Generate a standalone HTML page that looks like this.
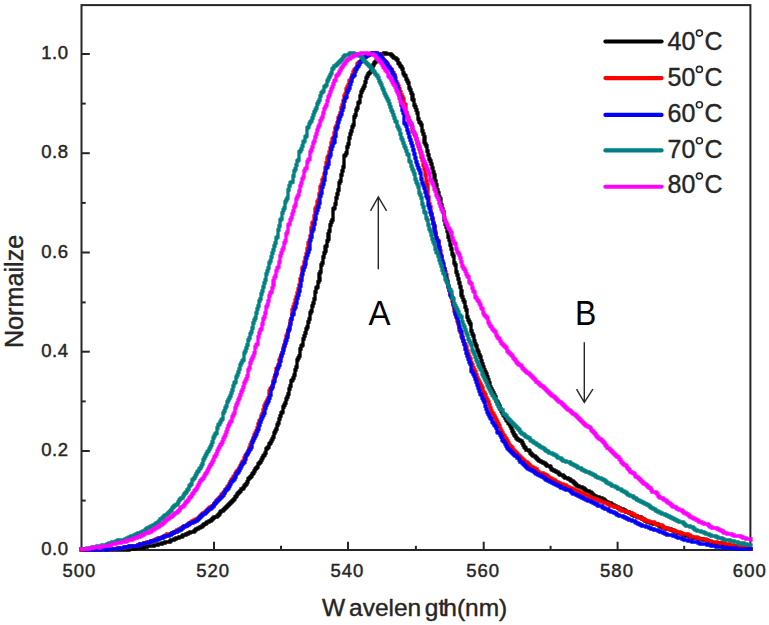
<!DOCTYPE html>
<html><head><meta charset="utf-8"><title>Normalized spectra</title>
<style>
html,body{margin:0;padding:0;background:#fff;}
body{width:769px;height:625px;overflow:hidden;}
svg{display:block;}
text{font-family:"Liberation Sans",sans-serif;fill:#262626;}
.tk{font-size:18.5px;stroke:#262626;stroke-width:0.45px;}
.xt{letter-spacing:1px;}
.yt{letter-spacing:0.6px;}
text.tiy{font-size:25.2px;}
.ti{font-size:24.5px;stroke:#262626;stroke-width:0.4px;}
.lg{font-size:25px;stroke:#262626;stroke-width:0.4px;}
.an{font-size:35.5px;fill:#000;}
</style></head><body>
<svg width="769" height="625" viewBox="0 0 769 625">
<rect x="0" y="0" width="769" height="625" fill="#ffffff"/>

<g stroke="#262626" fill="none" stroke-width="2">
<rect x="81.5" y="5.1" width="668.9" height="544.9"/>
<line x1="214" y1="550.0" x2="214" y2="541.7"/>
<line x1="348" y1="550.0" x2="348" y2="541.7"/>
<line x1="483.7" y1="550.0" x2="483.7" y2="541.7"/>
<line x1="617.6" y1="550.0" x2="617.6" y2="541.7"/>
<line x1="147.7" y1="550.0" x2="147.7" y2="545.8"/>
<line x1="281" y1="550.0" x2="281" y2="545.8"/>
<line x1="415.9" y1="550.0" x2="415.9" y2="545.8"/>
<line x1="550.6" y1="550.0" x2="550.6" y2="545.8"/>
<line x1="684.2" y1="550.0" x2="684.2" y2="545.8"/>
<line x1="81.5" y1="54" x2="89.8" y2="54"/>
<line x1="81.5" y1="153.2" x2="89.8" y2="153.2"/>
<line x1="81.5" y1="252.5" x2="89.8" y2="252.5"/>
<line x1="81.5" y1="351.7" x2="89.8" y2="351.7"/>
<line x1="81.5" y1="451.0" x2="89.8" y2="451.0"/>
<line x1="81.5" y1="103.6" x2="85.7" y2="103.6"/>
<line x1="81.5" y1="202.9" x2="85.7" y2="202.9"/>
<line x1="81.5" y1="302.4" x2="85.7" y2="302.4"/>
<line x1="81.5" y1="401.4" x2="85.7" y2="401.4"/>
<line x1="81.5" y1="500.6" x2="85.7" y2="500.6"/>
</g>
<g fill="none" stroke-width="3.3" stroke-linejoin="miter" stroke-linecap="square">
<path d="M81 550H82H83H84H85H86H87H88H89H90H91H92H93H94H95H96H97H98H99H100H101H102H103H104H105H106H107H108H109H110H111H112H113H114H115H116H117H118H119H120H121H122H123H124H125H126H127H128H129V549H130H131H132H133H134H135V548H136H137H138H139H140H141H142H143H144V547H145H146V546H147H148H149H150H151H152H153H154V545H155H156H157H158V544H159H160H161H162V543H163H164H165V542H166H167H168H169H170V541H171V540H172H173H174V539H175H176V538H177H178H179V537H180H181H182V536H183V535H184H185H186V534H187H188V533H189H190V532H191H192H193H194V531H195V530H196V529H197H198V528H199H200V527H201H202V526H203V525H204V524H205H206V523H207V522H208H209V521H210H211V520H212V519H213V518H214V517H215H216H217V516H218V515H219V514H220V513V512H221V511H222H223V510H224V509H225V508H226V507H227V506H228V505H229V504H230V503H231V502H232V501H233V500H234V499H235V498V497H236V496H237V495V494H238V493H239V492H240V491H241V490V489H242H243V488H244V487V486H245V485H246V484H247V483V482H248V481V480V479H249V478H250V477H251V476H252V475V474H253V473H254V472V471H255V470V469H256V468H257V467H258V466V465V464H259V463H260V462H261V461V460H262V459V458H263V457V456H264V455H265V454V453H266V452V451V450V449H267V448H268V447H269V446V445V444H270V443H271V442V441H272V440V439H273V438V437H274V436V435V434V433H275V432V431H276V430V429H277V428V427V426V425H278V424V423H279V422V421V420V419H280V418V417V416H281V415V414V413H282V412H283V411V410V409V408V407H284V406V405H285V404V403H286V402V401V400V399H287V398V397H288V396V395V394H289V393V392V391V390V389H290V388V387V386H291V385V384V383V382V381H292V380H293V379V378H294V377V376V375H295V374V373V372V371V370H296V369V368V367H297V366V365V364V363V362V361V360H298V359V358H299V357V356H300V355V354V353V352V351V350V349H301V348V347V346H302V345H303V344V343V342V341V340V339H304V338V337V336H305V335V334V333H306V332V331V330V329H307V328V327H308V326V325V324V323V322H309V321V320V319H310V318V317V316V315V314V313H311V312V311H312V310V309V308V307V306H313V305V304V303H314V302V301V300V299H315V298V297V296V295V294V293V292H316V291V290V289V288H317V287H318V286V285V284V283V282H319V281V280H320V279V278H319V277V276V275V274H320V273V272H321V271V270V269V268V267V266V265H322V264V263H323V262V261V260V259V258V257H324V256V255V254V253H325V252V251H326V250H325V249V248V247H326V246H327V245V244V243V242V241H328V240V239H329V238V237H328V236V235V234H329V233V232V231H330V230V229V228V227V226V225H331V224V223V222H332V221V220H333V219V218V217V216V215V214V213V212V211V210V209H334V208H335V207V206V205V204H336V203V202V201V200V199V198H337V197V196V195V194H338V193V192V191V190H339V189V188V187V186V185V184V183H340V182V181H341V180V179V178V177V176V175H342V174V173V172V171H343V170V169V168V167H344V166V165V164V163V162V161V160H345H344V159V158V157V156H345V155H346V154V153H347V152V151V150V149V148V147H348V146V145V144H349V143V142V141V140V139V138H350V137V136V135V134H351V133V132V131H352V130V129V128V127H353V126V125H354V124V123V122V121V120V119V118V117H355V116V115H356V114V113V112V111V110H357V109V108H358V107V106V105V104V103H359V102H360V101V100V99V98V97V96H361V95V94V93V92H362V91V90H363V89V88H364V87V86H365V85V84V83V82H366V81V80V79V78H367V77V76H368V75V74H369V73H370V72H371V71V70H372V69V68V67H373V66V65H374V64V63H375V62H376V61H377V60V59H378V58V57H379H380V56H381V55H382V54H383H384V53H385H386V54H387H388H389H390H391V55H392V56H393V57H394V58H395H396V59H397V60H398V61V62V63H399V64H400V65V66H401V67H402V68V69H403V70V71V72V73H404V74V75H405V76H406V77V78V79H407V80V81H408V82V83H409V84V85V86V87V88H410V89V90H411V91V92V93H412V94V95H413V96H412V97V98V99H413V100H414V101V102V103V104V105H415V106V107H416V108V109V110H417V111V112V113H418V114V115V116V117V118V119H419V120V121V122H420V123H421V124V125H422V126V127V128V129V130V131H423V132V133V134H424V135V136V137H425V138V139V140H424V141V142H425V143V144H426V145V146H427V147V148V149V150V151H428V152V153V154V155H429V156V157V158V159H430V160V161H431V162V163V164H432V165V166V167V168H433V169V170V171V172H434V173V174V175H435V176V177V178H434V179H435V180V181H436V182V183V184V185H437V186V187V188V189V190H438V191V192V193H439V194V195V196V197H440V198V199H441V200V201V202V203V204V205H442V206V207V208V209H443V210V211V212H444V213V214V215V216V217V218V219V220H445V221V222V223V224H446V225V226V227H447V228V229V230V231H448V232V233V234V235V236V237H449V238V239V240H450V241V242V243V244V245H451V246V247V248V249H452V250V251V252V253V254H453V255V256H454V257V258V259V260V261V262V263H455V264V265H456V266V267V268V269V270V271V272H457V273V274V275H458V276V277V278V279H459V280V281V282V283H460V284V285V286V287H461V288V289V290V291H462V292V293H461V294V295H462V296V297H463V298V299V300H464V301V302H465V303V304V305V306V307H466V308V309V310H467V311V312V313V314V315V316V317H468V318V319V320H469V321V322H470V323V324H471V325V326V327V328V329V330V331H472V332V333V334H473V335V336H474V337V338V339V340V341H475V342V343V344H476V345V346H477V347V348V349V350H478V351V352H479V353V354V355H480V356V357H481V358V359V360V361H482V362V363V364H483V365V366V367H484V368V369V370H485V371V372H486V373V374H487V375V376V377H488V378V379V380H489V381V382V383H490V384V385V386V387H491V388V389H492V390V391H493V392V393H494V394V395H495V396V397H496V398V399V400V401H497V402H498V403V404H499V405V406H500V407V408V409H501V410V411H502V412V413H503V414V415H504V416H505V417V418H506V419V420H507V421H508V422V423H509V424H510V425V426H511V427V428H512V429V430V431H513V432V433H514V434V435H515V436H516V437V438H517V439H518V440H519H520V441H521H522V442V443H523V444V445H524V446V447H525V448H526V449V450H527H528H529V451H530V452V453H531V454H532V455H533V456H534H535V457H536V458H537V459H538V460H539V461H540H541V462H542H543V463H544H545V464H546V465H547V466H548H549H550V467H551V468V469H552V470H553H554V471H555H556V472H557H558V473H559V474H560V475H561H562H563V476H564V477H565V478H566H567H568V479H569H570V480H571V481H572H573V482H574V483H575V484H576V485H577V486H578H579V487H580H581H582V488H583H584V489H585V490H586V491H587H588H589V492H590H591V493H592V494H593V495H594V496H595H596V497H597H598H599V498H600H601H602V499H603H604V500H605V501H606V502H607H608V503H609H610H611V504H612V505H613H614V506H615H616V507H617H618V508H619H620V509H621H622H623V510H624H625V511H626V512H627H628H629V513H630H631V514H632V515H633H634V516H635H636H637V517H638H639H640H641V518H642V519H643H644V520H645V521H646H647V522H648H649H650V523H651H652H653V524H654H655H656H657H658V525H659V526H660H661V527H662H663V528H664H665H666V529H667H668H669H670H671V530H672H673V531H674H675V532H676H677V533H678H679H680H681V534H682H683V535H684H685H686V536H687H688H689H690V537H691H692V538H693H694H695H696H697H698V539H699H700H701H702H703V540H704H705H706H707V541H708H709V542H710H711H712V543H713H714H715H716V544H717H718V543H719H720H721H722V544H723V545H724H725H726H727H728V546H729V547H730H731H732V546H733H734H735H736V547H737H738H739V548H740H741H742H743H744H745H746H747H748H749V549H750H751" stroke="#000000"/>
<path d="M81 549H82V550H83H84H85H86H87H88H89H90H91H92H93H94H95H96H97H98H99V549H100H101H102H103H104H105H106H107H108H109V550V549H110H111H112H113H114H115H116H117V548H118H119H120H121H122H123H124H125V547H126H127H128H129H130V546H131H132H133H134H135H136H137H138V545H139H140V544H141H142H143H144V543H145H146H147V542H148H149H150H151V541H152H153H154V540H155H156V539H157H158V538H159H160H161H162V537H163H164H165V536H166V535H167V534H168H169H170H171H172V533H173H174V532H175H176V531H177V530H178H179V529H180H181V528H182H183V527H184H185V526H186H187V525H188V524H189V523H190H191V522H192V521H193H194V520H195H196V519H197H198V518H199V517H200V516H201V515H202V514H203V513H204H205V512H206V511H207V510H208V509H209V508H210V507H211H212V506H213H214V505V504H215V503H216V502V501H217V500H218V499H219V498H220V497H221V496V495H222V494H223V493H224V492H225V491H226V490V489H227V488V487H228V486H229V485V484H230V483V482H231V481V480H232V479H233V478V477H234V476H235V475V474H236V473V472H237V471H238V470H239V469V468H240V467V466H241V465V464H242V463V462H243V461H244V460V459V458H245V457V456H246V455H247V454V453H248V452V451H249V450V449V448H250V447V446V445H251V444V443H252V442V441H253V440V439V438H254V437V436V435H255V434V433H256V432V431H257V430V429V428H258V427V426V425V424H259V423V422V421H260V420H261V419V418V417V416H262V415V414H263V413V412V411V410H264V409V408V407V406H265V405V404H266V403V402H267V401V400H268V399V398H269V397V396V395V394V393V392V391H270V390V389H271V388H272V387V386H273V385V384V383V382V381H274V380V379V378H275V377V376V375H276V374H277V373H276V372V371V370V369H277V368H278V367V366V365H279V364V363V362V361V360H280V359V358H281V357V356V355H282V354V353H283V352V351V350V349V348H284V347V346V345H285V344V343V342V341H286V340V339V338V337V336H287V335V334H288V333V332V331V330H289V329V328V327H290V326V325V324V323V322V321H291V320V319H292V318V317V316V315H293H292V314V313V312V311V310H293V309V308V307H294V306V305V304H295V303V302V301V300H296V299V298V297H297V296V295V294V293H298V292V291V290V289H299V288V287V286V285H300V284V283V282V281V280V279H301V278V277V276H302V275V274V273V272V271V270V269V268H303V267H304V266H305V265V264V263H304V262H305V261V260V259V258H306V257V256V255V254H307V253V252V251V250V249H308V248V247V246V245V244V243H309V242V241H310V240V239V238V237V236H311V235V234V233V232V231V230V229V228H312V227V226V225V224V223H313V222H314V221V220V219V218V217V216H315V215V214V213V212V211V210V209H316V208V207H317V206V205V204V203V202H318V201V200H319V199V198V197V196V195V194H320V193V192V191V190V189V188V187H321V186V185H322V184V183V182V181V180H323V179V178H324V177V176V175V174H325V173V172V171V170V169V168H326V167V166V165V164V163H327V162V161V160V159V158H328V157V156H329V155V154V153V152H330V151V150V149V148H331V147V146V145V144V143H332V142V141V140V139H333V138H334V137V136V135V134V133H335V132V131V130V129V128H336V127V126H337V125V124V123H338V122V121V120V119V118H339V117V116H340V115V114V113H341V112V111V110V109V108H342V107V106V105H343V104V103V102V101H344V100V99V98V97V96H345V95V94H346V93V92V91V90V89H347V88V87H348V86V85H349V84V83V82V81H350V80H351V79V78H352V77V76V75H353V74V73V72H354V71V70H355V69H356V68H357V67V66V65V64H358V63H359V62H360H361V61H362V60H363V59H364V58H365V57H366V56H367V55H368H369V54H370H371H372V53H373H374H375H376H377V54H378H379H380V55H381V56H382V57V58H383V59V60H384V61H385V62H386V63H387V64H388V65V66H389V67H390V68V69H391V70H392V71V72H393V73H394V74V75H395V76V77V78H396V79V80V81V82H397V83V84H398V85V86H399V87V88V89H400V90V91V92H401V93V94V95H402V96V97H403V98V99H404V100V101V102V103V104H405V105H406V106V107V108V109V110V111V112V113H407V114V115V116H408V117V118H409V119V120V121H410V122V123H411V124V125H412V126V127V128V129V130H413V131V132H414V133V134H415V135V136H416V137V138V139H417V140V141V142V143H418V144V145V146H419V147V148V149H420V150V151V152H421V153V154V155V156V157H422V158V159V160H423V161V162V163V164V165H424V166V167V168V169H425V170V171V172V173V174V175H426V176V177V178V179V180V181H427V182V183V184V185H428V186V187V188V189V190V191V192V193V194V195V196V197H429V198V199V200V201V202V203V204H430V205V206V207H431V208V209V210V211V212V213V214V215H432V216V217V218H433V219V220V221V222V223V224H434V225V226V227H435V228V229V230V231V232H436V233V234V235V236V237V238H437V239V240H438V241H439V242V243V244V245V246V247H440V248V249V250V251H441V252V253V254V255V256H442V257V258V259V260V261H443V262V263V264V265V266V267H444V268V269H445V270V271V272H446V273V274V275H447V276V277V278V279V280V281H448V282V283V284V285V286H449V287V288V289V290H450V291V292V293V294H451V295V296H452V297V298V299V300V301H453V302V303V304V305H454V306H455V307V308H454V309V310V311H455V312V313H456V314V315V316V317H457V318V319V320V321H458V322V323V324H459V325V326V327V328V329V330H460V331V332H461V333V334V335V336H462V337H463V338V339V340V341H464V342V343V344H465V345H466V346V347H467V348V349V350V351H468V352V353V354H469V355V356V357H470V358V359H471V360V361V362V363H472V364V365H473V366V367V368H474V369V370H475V371V372H476V373V374V375H477V376V377V378H478V379V380H479V381V382H480V383V384H481V385V386H482V387V388H483V389V390V391V392H484V393H485V394V395H486V396V397V398H487V399V400H488V401V402H489V403V404V405H490V406V407V408H491V409V410V411H492V412V413H493V414H494V415V416H495V417V418H496V419V420H497V421V422H498V423V424H499V425V426H500V427V428V429H501V430V431H502V432V433H503V434V435H504V436H505V437V438H506V439H507V440V441H508V442V443H509V444V445H510V446H511V447H512V448H513V449V450H514V451H515V452H516V453H517V454H518V455H519V456H520V457H521V458H522V459H523V460H524V461H525V462H526H527V463H528V464H529V465H530V466H531V467H532H533V468H534H535V469H536H537V470V471H538V472H539V473H540H541H542H543V474H544H545V475H546H547V476H548V477H549V478H550H551V479H552H553V480H554H555V481H556V482H557H558V483H559H560V484H561H562H563V485H564H565H566V486H567V487H568H569V488H570H571H572V489H573H574V490H575H576V491H577H578H579V492H580H581V493H582H583V494H584H585V495H586H587H588V496H589V497H590H591V498H592H593H594V499H595H596H597V500H598H599V501H600H601V502H602H603H604V503H605H606H607V504H608H609V505H610V506H611H612H613H614V507H615H616H617H618V508H619V509H620V510H621H622V511H623H624H625H626V512H627H628H629V513H630H631H632V514H633H634V515H635V516H636H637V517H638H639V518H640H641H642V519H643H644V520H645H646V521H647H648H649V522H650H651H652H653H654V523H655V524H656H657V525H658H659H660H661H662V526H663V527H664V528H665H666H667H668V529H669H670V530H671H672H673H674V531H675H676V532H677H678H679H680V533H681H682V534H683H684H685H686H687H688V535H689H690V536H691V537H692H693H694H695H696H697V538H698H699V539H700H701H702H703H704H705H706V540H707H708V541H709H710H711V542H712H713H714H715H716H717V543H718H719H720H721H722H723H724H725V544H726H727H728H729H730V545H731H732H733V546H734H735H736H737H738H739H740H741V547H742H743H744H745V548H746H747H748H749V549H750H751" stroke="#ff0000"/>
<path d="M81 549H82H83H84H85H86V550H87H88V549H89H90V550H91H92H93H94H95H96H97H98H99H100H101V549H102H103H104H105H106V550H107V549H108H109H110H111H112H113H114H115H116H117H118H119V548H120H121H122H123H124V547H125H126H127H128H129V546H130H131H132H133H134H135H136H137H138V545H139H140V544H141H142H143H144V543H145H146H147H148H149V542H150H151V541H152H153H154H155V540H156H157H158V539H159H160V538H161H162H163V537H164V536H165H166H167H168H169V535H170H171V534H172V533H173H174V532H175H176H177V531H178H179V530H180H181V529H182V528H183V527H184V526H185H186H187V525H188H189V524H190V523H191H192H193V522H194H195V521H196H197V520H198V519H199V518H200V517H201V516H202V515H203V514H204H205V513H206V512H207V511H208V510H209V509H210H211V508H212V507H213V506H214V505V504H215V503H216V502H217V501H218V500H219V499H220V498H221V497H222V496H223V495H224V494V493H225V492V491V490H226H227V489H228V488H229V487V486H230V485V484H231V483V482H232V481H233V480H234V479H235V478V477H236V476V475V474H237V473H238V472H239V471V470H240V469V468H241V467V466H242V465V464H243V463H244V462H245V461V460V459H246V458V457V456V455H247V454H248V453V452H249V451V450H250V449H251V448V447H252V446V445V444V443V442H253V441V440H254V439V438H255V437V436H256V435V434H257V433V432V431H258V430V429H259V428V427V426V425H260V424V423V422H261V421V420V419H262V418V417H263V416V415H264V414V413H265V412V411V410V409V408H266V407V406V405H267V404V403H268V402V401H269V400V399V398H270V397V396V395H271V394V393V392V391V390V389H272V388V387H273V386V385V384V383H274V382V381H275V380V379V378V377V376H276V375V374V373H277V372V371V370V369H278V368V367H279V366V365H280V364V363V362V361H281V360V359V358V357V356H282V355V354V353H283V352V351V350H284V349V348V347V346H285V345V344V343H286V342V341V340H287V339V338V337H288V336V335V334V333V332V331H289V330V329H290V328V327V326V325V324H291V323V322V321V320V319H292V318V317V316V315H293V314H294V313V312V311V310V309H295V308V307H296V306V305V304V303H297V302V301V300V299V298H298V297V296V295H299V294V293V292V291H300V290V289V288V287V286H301V285V284V283V282V281V280H302V279V278V277V276V275V274H303V273V272V271V270H304V269V268V267H305V266V265V264H306V263V262V261V260V259V258H307V257V256V255H308V254V253V252H309V251V250V249H310V248V247V246V245V244V243V242V241V240H311V239V238V237H312V236V235V234V233V232V231H313V230V229H314V228V227V226V225V224H315V223V222V221V220V219H316V218V217V216V215V214V213H317V212V211V210H318V209V208V207H319V206V205V204V203H320V202V201V200V199V198V197V196H321V195V194V193H322V192V191V190V189V188V187H323V186V185V184H324V183V182V181V180H325V179V178V177V176V175V174V173H326V172V171V170V169V168H327V167H328V166V165V164H329V163V162V161V160V159V158V157H330V156V155H331V154V153V152V151V150V149H332V148V147V146H333V145V144V143H334V142H335V141V140H334V139V138H335V137V136H336V135V134V133V132V131V130V129H337V128V127H338V126V125V124V123V122H339V121V120V119H340V118V117V116H341V115V114H342V113V112V111V110H343V109V108V107H344V106V105V104V103V102V101H345V100V99V98H346V97H347V96V95V94V93V92H348V91V90H349V89V88H350V87V86V85V84H351V83V82V81H352V80V79V78V77H353V76H354V75H355V74V73V72V71H356V70V69H357V68V67H358V66H359V65V64H360V63V62H361V61H362V60V59H363V58H364V57H365H366V56H367H368V55H369H370V54H371H372V53H373H374H375H376H377V54H378H379V55H380V56H381V57V58H382V59H383V60H384V61H385V62H386V63H387V64V65H388V66V67H389V68H390V69H391V70H392V71V72V73H393V74V75H394V76H395V77V78V79V80V81V82H396V83V84H397V85V86V87H398V88V89V90V91H399V92V93V94V95H400V96V97V98H401V99V100V101V102V103V104V105H402V106V107V108V109V110H403V111V112V113H404V114V115V116V117V118V119V120V121V122V123H405V124H406V125V126H407V127V128V129V130H408V131V132V133H409V134V135V136V137H410V138V139V140H411V141V142V143H412V144V145V146H413V147V148V149V150H414V151V152V153V154H415V155V156V157V158H416V159V160V161V162H417V163V164V165H418V166V167V168H419V169V170H420V171V172V173H421V174V175V176V177V178V179H422V180V181V182V183H423V184V185H424V186V187V188H425V189V190V191V192H426V193V194V195V196H427V197V198H428V199V200V201V202V203V204V205H429V206V207V208H430V209V210V211V212H431V213V214H432V215V216V217V218V219H433V220V221V222V223H434V224V225V226H435V227V228V229H434V230V231H435V232V233V234H436V235V236V237V238H437V239V240V241H438V242H439V243H438V244V245V246H439V247V248H440V249V250V251V252V253V254V255H441V256V257H442V258V259V260V261V262H443V263V264H444V265V266V267V268V269H445V270V271V272V273V274V275H446V276V277V278V279H447V280V281V282H448V283V284V285V286V287H449V288V289V290H450V291V292V293V294V295H451V296V297H452V298H453V299V300V301V302V303V304H454V305V306V307H455V308V309V310V311V312V313V314H456V315V316H457V317V318H458V319V320V321V322H459V323V324V325V326V327H460V328V329V330H461V331V332H462V333V334V335V336V337V338H463V339V340V341H464V342V343V344H465V345V346V347V348V349H466V350V351V352V353H467V354V355V356H468V357V358V359H469V360V361V362H470V363V364H471V365V366V367V368V369V370V371H472V372H473V373V374H474V375V376H475V377V378V379H476V380V381V382H477V383V384V385H478V386V387V388H479V389V390V391H480V392V393V394H481V395H482V396V397V398H483V399V400H484V401V402H485V403V404V405V406H486V407V408V409H487V410V411V412H488V413V414H489V415V416H490V417V418H491V419H492V420V421V422H493V423H494V424V425H495V426H496V427V428H497V429V430V431V432H498V433H499H500V434V435H501V436V437H502V438V439V440H503V441H504V442H505V443V444H506V445V446H507V447V448H508V449H509V450H510V451H511V452H512V453H513V454H514V455H515V456H516H517V457V458H518H519V459V460H520V461V462H521H522V463H523V464H524V465H525V466H526V467H527V468H528V469H529H530V470H531H532V471H533H534V472H535V473H536V474H537H538V475H539H540V476H541H542V477H543H544V478H545V479H546V480H547H548V481H549H550V482H551H552V483H553H554V484H555H556V485H557H558V486H559H560V487H561V488H562H563H564V489H565H566V490H567H568H569H570V491H571V492H572V493H573V494H574H575H576V495H577H578V496H579H580V497H581H582V498H583H584V499H585H586V500H587H588V501H589H590H591V502H592H593V503H594H595V504H596H597V505H598V506H599H600H601H602V507H603V508H604H605V509H606H607H608V510H609V511H610H611V512H612H613H614V513H615H616V514H617V515H618H619V516H620H621H622H623V517H624H625V518H626H627V519H628H629V520H630H631H632V521H633H634H635V522H636V523H637H638V524H639H640V525H641H642V526H643H644H645H646V527H647H648H649V528H650H651V529H652H653H654V530H655H656H657H658V531H659H660V532H661H662H663V533H664H665V534H666H667V535H668H669H670H671H672H673V536H674H675H676V537H677H678V538H679H680H681H682V539H683H684V540H685H686H687H688V541H689H690H691H692V542H693H694H695H696H697H698V543H699H700V544H701H702H703H704H705H706H707V545H708H709H710H711V546H712H713H714H715H716V547H717H718H719H720H721H722H723V548H724H725H726H727H728H729H730H731H732H733H734H735H736V549H737H738H739H740H741H742H743H744H745H746H747H748H749H750H751" stroke="#0000ff"/>
<path d="M81 549H82H83H84H85H86H87V548H88H89H90H91H92V547H93H94H95H96H97V546H98H99H100H101H102V545H103H104H105H106H107V544H108H109V543H110H111H112V542H113H114H115H116V541H117H118V540H119H120H121H122H123H124H125V539H126H127V538H128H129V537H130H131V536H132H133H134V535H135H136V534H137H138V533H139H140H141V532H142H143V531H144H145V530H146V529H147V528H148H149V527H150H151V526H152H153V525H154H155V524H156V523H157H158V522H159V521H160V520V519H161H162V518H163V517H164V516H165V515H166H167V514H168V513H169V512H170V511H171V510H172V509V508H173V507H174V506H175V505H176H177V504H178V503V502H179V501V500H180V499H181V498H182H183V497V496H184V495V494H185V493H186V492H187V491V490H188V489H189V488V487V486H190V485H191V484H192V483V482V481V480H193V479H194V478H195V477V476H196V475V474H197V473V472H198V471H199V470V469H200V468H201V467V466H202V465V464H203V463V462V461V460H204V459V458H205V457V456H206V455V454H207V453V452H208V451H209V450V449H210V448V447H211V446V445H212V444V443V442H213V441V440V439V438H214V437V436H215V435V434H216V433H217V432V431V430V429V428H218V427V426V425H219V424H220V423V422H221V421V420H222V419H223V418V417V416V415V414V413H224V412V411H225V410V409V408H226V407V406H227V405V404V403V402H228V401V400H229V399V398H230V397V396H231V395V394V393H232V392V391V390H233V389V388V387V386H234V385V384V383H235V382H236V381V380V379V378V377H237V376V375H238V374V373V372H239V371V370V369H240V368V367V366V365H241V364V363H242V362V361H243V360H244V359V358V357V356V355V354V353H245V352V351H246V350V349V348H247V347V346V345H248V344V343V342V341V340H249V339V338H250V337V336V335V334H251V333V332H252V331V330V329V328H253V327V326V325V324V323H254V322V321V320H255V319V318H256V317V316V315V314V313H257V312V311V310V309H258V308V307V306H259V305V304V303V302V301H260V300V299H261V298V297V296V295V294H262V293V292V291H263V290V289V288V287H264V286V285V284V283H265V282V281V280H266V279V278V277V276V275V274H267V273V272V271H268V270V269V268H269V267V266V265V264V263H270V262V261H271V260V259V258V257H272V256V255V254V253H273V252V251V250H274V249V248V247V246H275V245V244V243H276V242V241V240V239V238H277V237H278V236V235V234V233V232V231V230H279V229V228V227V226H280V225V224V223V222V221V220H281V219H282V218V217V216V215V214V213H283V212V211V210H284V209V208H285V207V206V205V204V203V202H286V201V200H287V199V198H288V197V196V195V194V193H287H288V192V191V190H289V189V188V187V186H290V185V184V183H291V182H292H293V181V180V179V178V177V176H294V175V174V173V172V171H295V170V169H296V168V167V166V165H297V164V163V162V161H298V160H299V159V158V157V156H298H299V155V154V153V152H300V151H301V150V149H302V148V147V146H303V145V144V143V142H304V141H305V140V139V138V137H306V136H307V135V134V133V132V131V130V129V128H308V127H309V126V125V124H310V123V122H311V121H312V120V119V118H313V117V116V115H314V114V113V112H315V111V110H316V109V108H317V107V106V105V104H318V103V102H319V101V100H320V99V98V97V96H321V95V94V93H322V92H323V91H324V90V89V88V87H325V86H326V85H327V84V83V82V81H328V80V79H329V78V77H330V76V75H331V74V73H332V72V71V70V69H333V68H334V67V66H335H336V65H337V64H338V63H339V62H340V61H341V60H342V59H343V58V57H344V56H345V55H346H347H348H349V54H350V53H351H352H353H354V54H355H356H357H358V55H359V56H360H361V57H362V58H363V59V60H364V61H365V62H366V63H367V64H368V65H369V66H370V67H371V68H372V69V70H373V71H374V72H375V73V74H376V75H377V76H378V77V78H379V79V80V81H380V82V83H381V84V85H382V86V87V88H383V89V90H384V91V92V93H385V94V95H386V96V97H387V98V99H388V100V101H389V102V103V104H390V105V106V107H391V108V109V110H392V111V112H393V113V114V115H394V116V117V118H395V119V120V121H396V122H397V123V124V125V126H398V127V128H399V129V130H400V131V132V133V134H401V135V136V137V138H402V139V140H403V141V142V143H404V144V145V146H405V147V148H406V149V150V151H407V152V153V154H408V155H409V156V157V158V159V160V161H410V162H411V163V164V165V166H412V167V168V169H413V170V171H414V172V173V174H415V175V176V177V178V179H416V180V181V182H417V183V184H418V185V186V187H419V188V189V190V191V192V193H420V194V195H421V196V197V198H422V199V200V201V202V203V204H423V205V206V207H424V208V209V210V211V212H425V213H426V214V215V216V217V218H427V219V220H428V221V222V223V224V225H429V226V227V228V229H430V230V231H431V232V233V234V235H432V236V237V238V239H433V240V241V242H434V243V244H435V245V246V247V248V249H436V250V251V252H437V253H438V254V255V256H439V257V258V259V260H440V261V262V263H441V264V265V266H442V267V268V269V270H443V271V272V273H444V274H445V275V276V277V278V279H446V280V281H447V282V283H448V284V285V286H449V287V288V289H450V290H451V291V292H452V293V294V295V296V297V298H453V299H454V300V301V302V303V304H455V305V306H456V307V308H457V309V310H458V311V312H459V313V314V315H460V316H461V317H462V318V319V320V321V322H463V323V324V325H464V326V327H465V328V329V330H466V331V332V333H467V334V335H468V336V337V338V339H469V340V341H470V342V343H471V344V345H472V346V347V348V349V350H473V351V352H474V353V354H475V355V356V357H476V358V359V360H477V361V362H478V363V364V365H479V366V367H480V368V369H481V370H482V371V372V373V374H483V375V376H484V377V378H485V379V380H486V381V382H487V383V384V385H488V386V387H489V388V389H490V390V391H491V392V393H492V394V395H493V396H494V397V398H495V399H496V400V401H497V402V403V404H498V405V406H499V407V408H500V409H501V410H502H503V411V412V413V414H504H505V415H506V416H507V417V418H508V419H509V420H510V421H511V422H512V423H513V424H514V425H515V426H516V427H517V428H518V429H519V430H520V431V432H521V433H522V434H523H524V435H525V436H526V437H527H528V438H529H530V439V440H531V441H532H533V442H534V443H535H536V444H537V445H538H539V446H540V447H541H542V448H543H544V449H545V450H546V451H547H548V452H549V453H550H551H552V454H553H554V455H555H556V456H557V457H558V458H559H560H561V459H562V460H563V461H564H565H566V462H567H568H569H570V463H571V464H572H573V465H574H575V466H576H577V467H578V468H579H580H581V469H582V470H583H584V471H585H586V472H587H588H589V473H590H591V474H592H593V475H594H595V476H596V477H597H598V478H599H600H601V479H602H603V480H604H605V481H606V482H607V483H608H609V484H610H611V485H612V486H613H614H615V487H616H617V488H618V489H619H620H621V490H622V491H623H624V492H625H626V493H627V494H628V495H629H630V496H631H632H633V497H634V498H635H636V499H637V500H638H639V501H640H641V502H642H643V503H644H645V504H646H647V505H648H649V506H650V507H651V508H652H653V509H654H655V510H656V511H657H658V512H659H660V513H661H662V514H663H664H665V515H666H667V516H668H669V517H670H671V518H672H673V519H674H675V520H676H677V521H678H679V522H680H681H682H683V523H684V524H685V525H686V526H687H688H689H690V527H691H692H693V528H694V529H695V530H696H697V531H698H699H700H701V532H702H703H704V533H705H706V534H707H708H709V535H710H711V536H712H713H714H715H716V537H717H718V538H719H720H721H722V539H723H724V540H725H726H727H728H729H730V541H731H732H733H734V542H735H736H737H738V543H739H740V544H741H742H743V543H744V544H745H746H747V545H748H749H750H751" stroke="#008080"/>
<path d="M81 549H82H83H84H85H86H87H88H89H90V548H91H92H93H94V547H95H96H97H98H99V548H100V547H101H102V546H103H104H105H106H107H108H109H110V545H111H112V544H113H114H115H116V543H117H118H119H120H121V542H122H123H124H125H126V541H127H128V540H129H130H131H132V539H133H134V538H135H136H137V537H138H139H140V536H141H142V535H143H144V534H145V533H146H147H148H149V532H150H151V531H152V530H153H154V529H155V528H156H157V527H158H159V526H160V525H161H162V524H163V523H164V522H165V521H166V520H167V519H168H169V518H170V517H171H172V516H173V515H174V514H175V513H176H177V512H178V511H179V510H180V509V508H181V507H182H183V506H184V505H185V504V503H186V502H187V501H188V500H189V499V498H190V497H191V496H192V495V494H193V493H194V492V491H195V490H196V489H197V488V487H198V486V485H199V484V483H200V482V481H201V480H202V479H203V478H204V477V476H205V475V474H206V473H207V472V471H208V470V469H209V468V467H210V466V465H211V464H212V463V462H213V461V460H214V459V458V457H215V456H216V455V454H217V453V452V451H218V450V449H219V448V447H220V446V445H221V444H222V443V442H223V441V440V439H224V438V437H225V436V435H226V434V433V432H227V431V430V429H228V428V427V426H229V425V424H230V423V422H231V421H232V420V419V418V417H233V416V415H234V414V413H235V412V411V410V409V408H236V407V406V405H237V404V403H238V402V401V400H239V399V398H240V397V396V395H241V394V393V392H242V391V390H243V389V388V387H244V386V385V384V383H245V382V381H246V380V379H247V378V377V376H248V375V374V373V372V371V370H249V369V368H250V367V366V365V364V363H251V362V361V360H252V359V358H253V357V356H254V355V354V353H255V352V351V350V349V348V347H256V346V345H257V344H258V343V342V341V340V339V338V337H259V336V335V334V333H260V332V331V330H261V329H262V328V327V326V325V324H263V323V322V321V320V319H264V318V317H265V316V315V314V313H266V312V311V310V309V308V307H267V306V305H268V304V303V302V301H269V300V299V298V297V296H270V295V294V293H271V292H272V291V290V289V288H273V287V286V285H274V284V283V282H273V281H274V280V279V278H275V277V276H276V275V274V273V272V271H277V270V269V268H278V267H279V266V265V264V263V262H280V261V260V259V258V257V256H281V255V254V253H282V252V251V250H283V249V248H284V247V246V245V244V243H285V242V241H286V240V239V238V237V236V235V234H287V233V232H288V231V230V229V228V227V226V225H289V224H290V223V222V221V220H291V219V218H292V217V216V215V214H293V213V212V211H294V210V209V208V207H295V206V205H296V204V203V202V201V200V199H297V198V197H298V196V195H299V194V193V192V191H300V190V189V188V187V186H301V185V184V183H302V182V181V180V179H303V178V177H304V176V175V174V173V172V171H305V170V169H306V168H307V167V166V165V164V163V162H308V161V160H309V159H310V158V157V156V155V154V153V152H311V151V150H312V149V148V147H313V146V145V144V143H314V142V141H315V140V139V138V137H316V136V135V134H317V133V132V131V130H318V129V128V127H319V126V125H320V124V123V122V121H321V120V119H322V118V117H323V116V115V114V113H324V112V111V110V109H325V108V107H326V106V105H327V104V103V102V101H328V100V99V98V97H329V96V95H330V94V93V92H331V91V90V89H332V88V87H333V86V85V84H334V83V82V81H335V80H336V79V78V77V76H337V75H338V74H339V73V72H340V71V70H341V69V68H342V67H343V66V65H344V64H345V63H346V62V61H347V60H348V59H349H350V58H351V57H352H353V56H354H355V55H356H357V54H358H359H360H361V53H362H363H364H365H366H367H368V54H369H370H371H372H373V55H374H375V56H376V57V58H377V59H378V60H379V61H380V62H381V63H382V64V65H383V66V67H384V68H385V69V70H386V71H387V72H388V73V74V75V76H389V77H390V78H391V79V80H392V81V82H393V83V84H394V85H395V86V87H396V88V89V90H397V91V92H398V93V94H399V95V96V97V98H400V99V100V101H401V102V103H402V104H403V105V106H404V107V108H405V109V110V111H406V112V113H407V114V115V116V117H408V118V119V120H409V121H410V122V123H411V124H412V125V126V127H413V128V129V130V131V132H414V133H415V134V135H416V136V137V138V139H417V140V141V142H418V143V144H419V145V146V147H420V148V149V150V151H421V152V153H422V154V155V156H423V157V158V159V160H424V161V162H425V163V164H426V165V166H427V167V168V169H428V170V171H429V172V173V174H430V175V176V177V178V179V180H431V181H432V182V183H433V184V185H434V186V187V188V189H435V190V191H436V192V193V194V195H437V196V197H438V198V199H439V200V201V202V203H440V204V205V206H441V207V208V209H442V210V211H443V212H444V213V214V215V216V217V218H445V219V220V221H446V222V223H447V224V225H448V226V227V228H449V229H450V230V231H451V232V233H452V234V235V236V237V238H453V239V240V241H454V242V243H455V244H456V245V246V247V248V249H457V250V251V252H458V253H459V254V255H460V256V257V258H461V259V260V261V262H462V263V264V265V266H463V267V268H464V269H465V270V271H466V272V273V274H467V275V276H468V277H469V278V279V280V281V282H470V283H471V284H472V285V286V287V288H473V289V290V291H474V292H475V293V294V295V296V297H476V298H477V299V300H478V301H479V302V303H480V304V305H481V306V307V308H482V309H483V310V311V312V313H484V314V315H485V316H486V317H487V318H488V319V320V321V322H489V323V324H490V325V326H491V327H492V328V329H493V330H494V331H495V332H496V333V334V335H497V336V337H498V338H499V339H500V340V341H501V342V343H502V344H503V345H504V346H505V347H506V348H507V349V350V351H508V352H509V353H510V354H511V355H512V356H513V357V358H514V359H515V360H516V361V362H517V363H518V364H519V365H520H521V366H522V367V368H523V369H524V370H525V371H526V372H527V373H528H529V374H530V375H531V376H532V377H533V378H534V379H535V380H536V381V382H537H538V383H539V384H540V385H541V386H542H543V387H544V388H545V389H546V390H547V391H548V392H549V393H550V394H551V395H552V396H553H554V397H555V398H556V399H557V400H558V401H559V402H560H561V403H562V404H563V405H564V406H565V407H566V408H567V409H568V410H569H570V411H571V412H572V413H573V414H574H575V415H576V416H577V417H578V418H579V419H580V420H581V421H582V422H583V423H584V424H585V425H586V426H587H588V427H589H590V428H591V429V430H592V431H593V432H594V433H595V434H596V435V436H597V437H598V438H599V439H600H601V440H602V441H603V442H604V443H605V444V445H606V446H607V447V448H608H609V449H610V450H611V451H612V452H613V453H614V454H615V455H616V456H617V457H618H619V458V459H620V460H621V461V462H622V463H623V464H624V465H625H626V466H627V467V468H628V469H629V470H630V471V472H631H632V473H633H634V474H635V475V476H636V477H637H638V478H639V479H640V480H641V481H642V482H643V483H644V484H645H646V485H647V486H648V487H649V488H650H651V489V490H652V491V492H653H654H655H656V493H657V494H658V495V496H659V497H660V498H661H662H663V499H664V500H665H666V501H667V502H668V503H669H670V504H671V505H672V506H673V507H674H675H676V508H677V509H678H679V510H680H681H682V511H683V512H684V513H685H686V514H687H688V515H689V516H690V517H691H692V518H693H694V519H695H696V520H697H698V521H699V522H700H701H702V523H703H704V524H705H706H707H708V525H709V526H710V527H711H712V528H713H714H715H716H717V529H718H719V530H720H721V531H722H723V532H724V533H725H726H727V534H728H729H730H731H732V535H733H734V536H735H736H737H738H739H740H741V537H742H743V538H744H745H746V539H747H748H749H750H751V540" stroke="#ff00ff"/>
</g>
<text class="tk yt" x="68.7" y="59.2" text-anchor="end">1.0</text>
<text class="tk yt" x="68.7" y="158.4" text-anchor="end">0.8</text>
<text class="tk yt" x="68.7" y="257.7" text-anchor="end">0.6</text>
<text class="tk yt" x="68.7" y="356.9" text-anchor="end">0.4</text>
<text class="tk yt" x="68.7" y="456.2" text-anchor="end">0.2</text>
<text class="tk yt" x="68.7" y="555.4" text-anchor="end">0.0</text>
<text class="tk xt" x="79.4" y="576.6" text-anchor="middle">500</text>
<text class="tk xt" x="213.1" y="576.6" text-anchor="middle">520</text>
<text class="tk xt" x="347.4" y="576.6" text-anchor="middle">540</text>
<text class="tk xt" x="483.1" y="576.6" text-anchor="middle">560</text>
<text class="tk xt" x="617.0" y="576.6" text-anchor="middle">580</text>
<text class="tk xt" x="749.8" y="576.6" text-anchor="middle">600</text>
<text class="ti" y="616.4"><tspan x="322">W</tspan><tspan x="349">avelen</tspan><tspan x="424.8">gt</tspan><tspan x="443.3">h(nm)</tspan></text>
<text class="ti tiy" transform="translate(23.3 291.4) rotate(-90)" text-anchor="middle">Normailze</text>
<line x1="605.4" y1="41.5" x2="661.6" y2="41.5" stroke="#000000" stroke-width="4.1" stroke-linecap="round"/>
<text class="lg" x="667.5" y="50.0">40</text>
<circle cx="699.4" cy="33.1" r="3.0" fill="none" stroke="#262626" stroke-width="1.6"/>
<text class="lg" x="704.4" y="50.0">C</text>
<line x1="605.4" y1="78.1" x2="661.6" y2="78.1" stroke="#ff0000" stroke-width="4.1" stroke-linecap="round"/>
<text class="lg" x="667.5" y="86.3">50</text>
<circle cx="699.4" cy="69.4" r="3.0" fill="none" stroke="#262626" stroke-width="1.6"/>
<text class="lg" x="704.4" y="86.3">C</text>
<line x1="605.4" y1="114.9" x2="661.6" y2="114.9" stroke="#0000ff" stroke-width="4.1" stroke-linecap="round"/>
<text class="lg" x="667.5" y="121.6">60</text>
<circle cx="699.4" cy="104.7" r="3.0" fill="none" stroke="#262626" stroke-width="1.6"/>
<text class="lg" x="704.4" y="121.6">C</text>
<line x1="605.4" y1="150.4" x2="661.6" y2="150.4" stroke="#008080" stroke-width="4.1" stroke-linecap="round"/>
<text class="lg" x="667.5" y="157.7">70</text>
<circle cx="699.4" cy="140.8" r="3.0" fill="none" stroke="#262626" stroke-width="1.6"/>
<text class="lg" x="704.4" y="157.7">C</text>
<line x1="605.4" y1="186.7" x2="661.6" y2="186.7" stroke="#ff00ff" stroke-width="4.1" stroke-linecap="round"/>
<text class="lg" x="667.5" y="193.0">80</text>
<circle cx="699.4" cy="176.1" r="3.0" fill="none" stroke="#262626" stroke-width="1.6"/>
<text class="lg" x="704.4" y="193.0">C</text>
<g stroke="#262626" stroke-width="1.4" fill="none" stroke-linecap="butt">
<path d="M378.3 269.2 L378.3 197 M370.5 210.8 L378.3 197 L386.6 210.8"/>
<path d="M584.3 342.3 L584.3 402.4 M576.5 389.2 L584.3 402.4 L592.9 389.2"/>
</g>
<text class="an" transform="translate(379.4 324.6) scale(0.93 1)" text-anchor="middle">A</text>
<text class="an" transform="translate(585.6 324.6) scale(0.9 1)" text-anchor="middle">B</text>
</svg></body></html>
